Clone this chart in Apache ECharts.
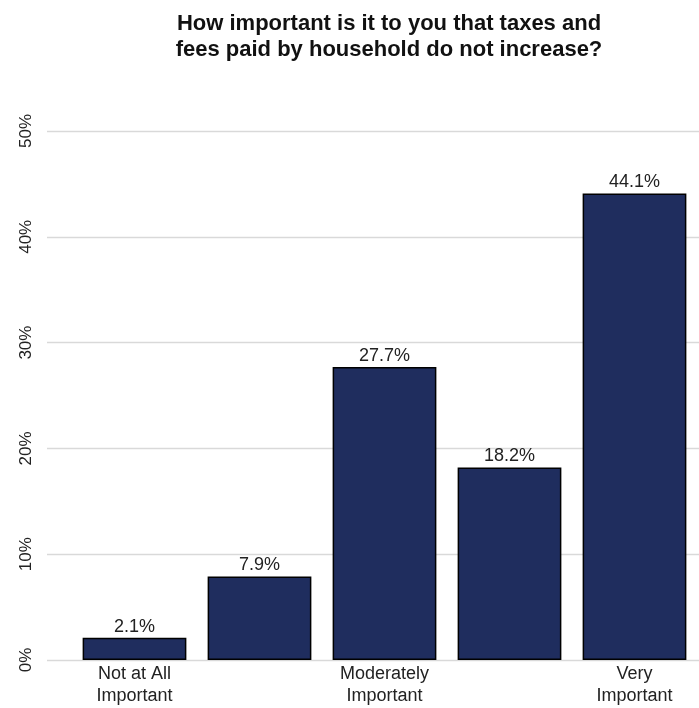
<!DOCTYPE html>
<html>
<head>
    <meta charset="utf-8">
    <title>taxes and fees</title>
    <script src="https://cdn.jsdelivr.net/npm/echarts@6/dist/echarts.min.js"></script>
</head>
<body style="margin:0;">
<div id="chart" style="width: 699px;height:708px;"></div>

<script>
    var categories = ['Not at All\nImportant', '', 'Moderately\nImportant', '', 'Very\nImportant'];
    var values = [2.1, 7.9, 27.7, 18.2, 44.1];
    var yTicks = [0, 10, 20, 30, 40, 50];

    var chart = echarts.init(document.getElementById('chart'));
    var font = 'Liberation Sans, Arial, sans-serif';
    var option = {
        backgroundColor: '#fff',
        animation: false,
        title: {
            text: 'How important is it to you that taxes and\nfees paid by household do not increase?',
            left: 384,
            textAlign: 'center',
            top: 6,
            textStyle: {
                fontFamily: font,
                fontWeight: 'bold',
                fontSize: 22,
                lineHeight: 26,
                color: '#111'
            }
        },
        grid: [
            // gridlines + y labels
            {left: 47, right: 0, top: 131, bottom: 48},
            // bars
            {left: 72, right: 2, top: 131, bottom: 48}
        ],
        xAxis: [
            {type: 'value', gridIndex: 0, show: false, min: 0, max: 1},
            {
                type: 'category', gridIndex: 1, data: categories,
                axisLine: {show: false}, axisTick: {show: false},
                axisLabel: {fontFamily: font, fontSize: 18, color: '#222', lineHeight: 22, margin: 3, interval: 0}
            }
        ],
        yAxis: [
            {
                type: 'value', gridIndex: 0, min: yTicks[0], max: yTicks[yTicks.length - 1], interval: 10,
                axisLine: {show: false}, axisTick: {show: false},
                splitLine: {lineStyle: {color: '#d9d9d9', width: 1.3}},
                axisLabel: {
                    formatter: '{value}%', rotate: 90, margin: 12,
                    fontFamily: font, fontSize: 17, color: '#222'
                }
            },
            {
                type: 'value', gridIndex: 1, min: 0, max: 50, interval: 10, show: false
            }
        ],
        series: [{
            type: 'bar',
            xAxisIndex: 1,
            yAxisIndex: 1,
            data: values,
            barWidth: '83%',
            itemStyle: {color: '#1f2d5e', borderColor: '#000', borderWidth: 1.5},
            label: {
                show: true, position: 'top', distance: 2,
                formatter: function (p) { return p.value.toFixed(1) + '%'; },
                fontFamily: font, fontSize: 18, color: '#222'
            }
        }]
    };
    chart.setOption(option);
</script>
</body>
</html>
